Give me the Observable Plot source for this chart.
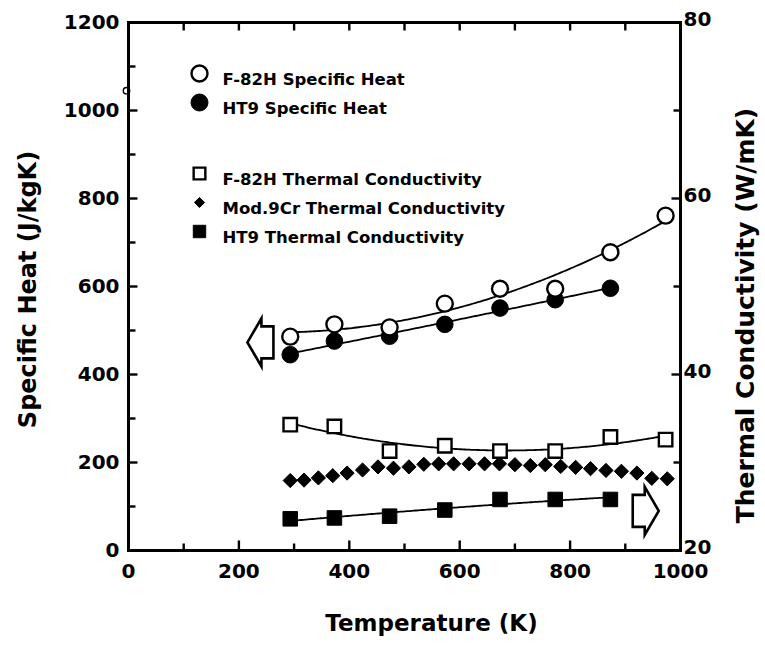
<!DOCTYPE html>
<html>
<head>
<meta charset="utf-8">
<script src="https://cdn.jsdelivr.net/npm/d3@7"></script>
<script src="https://cdn.jsdelivr.net/npm/@observablehq/plot@0.6"></script>
<style>
  html, body { margin: 0; padding: 0; background: #fff; }
</style>
</head>
<body>
<div id="chart"></div>
<script>
// Measurement temperatures (K) shared by the circle and square series
const temps = [293, 373, 473, 573, 673, 773, 873, 973];

// Specific heat (J/kgK)
const f82hSpecificHeat = [486, 514, 507, 561, 595, 595, 678, 761];
const ht9SpecificHeat = [445, 476, 487, 514, 551, 570, 596]; // 293 .. 873 K

// Thermal conductivity (W/mK)
const f82hConductivity = [34.3, 34.1, 31.3, 31.9, 31.3, 31.3, 32.9, 32.6];
const ht9Conductivity = [23.6, 23.7, 23.9, 24.6, 25.8, 25.8, 25.8]; // 293 .. 873 K
const mod9CrTemps = [293, 318, 344, 370, 396, 424, 452, 480, 508, 535, 562, 589, 617,
                     645, 672, 700, 728, 755, 783, 810, 837, 865, 893, 921, 948, 976];
const mod9CrConductivity = [27.95, 28.0, 28.25, 28.5, 28.8, 29.15, 29.5, 29.35, 29.5, 29.8,
                            29.85, 29.85, 29.85, 29.85, 29.85, 29.75, 29.65, 29.75, 29.55,
                            29.45, 29.3, 29.1, 29.0, 28.8, 28.2, 28.15];

// Lone point sitting on the left axis
const loosePointTemps = [0];
const loosePointHeat = [1045];

// Block arrows telling which axis each group of curves belongs to
const heatArrowTemps = [239];
const heatArrowValues = [473];
const conductivityArrowTemps = [937];
const conductivityArrowValues = [24.5];

// Axis ticks
const tempTicks = [0, 200, 400, 600, 800, 1000];
const tempMinorTicks = [100, 300, 500, 700, 900];
const heatTicks = [0, 200, 400, 600, 800, 1000, 1200];
const heatMinorTicks = [100, 300, 500, 700, 900, 1100];
const conductivityTicks = [20, 40, 60, 80];
const conductivityMinorTicks = [30, 50, 70];

const legendLabels = [
  "F-82H Specific Heat",
  "HT9 Specific Heat",
  "F-82H Thermal Conductivity",
  "Mod.9Cr Thermal Conductivity",
  "HT9 Thermal Conductivity"
];

// The right axis (20–80 W/mK) spans the same height as the left one (0–1200 J/kgK)
const kToHeat = k => (k - 20) * 20;
const heatToK = v => String(v / 20 + 20);
const plain = d3.format("d");

// Least-squares quadratic through a series, used for the smooth trend curves
function solve3(A, b) {
  const det = m => m[0][0] * (m[1][1] * m[2][2] - m[1][2] * m[2][1])
                 - m[0][1] * (m[1][0] * m[2][2] - m[1][2] * m[2][0])
                 + m[0][2] * (m[1][0] * m[2][1] - m[1][1] * m[2][0]);
  const D = det(A);
  return [0, 1, 2].map(c => det(A.map((row, r) => row.map((v, j) => (j === c ? b[r] : v)))) / D);
}
function quadraticFit(xs, ys) {
  const mx = d3.mean(xs);
  const s = [0, 0, 0, 0, 0], t = [0, 0, 0];
  xs.forEach((x, i) => {
    const u = (x - mx) / 100;
    for (let p = 0; p < 5; p++) s[p] += u ** p;
    for (let p = 0; p < 3; p++) t[p] += ys[i] * u ** p;
  });
  const c = solve3([[s[0], s[1], s[2]], [s[1], s[2], s[3]], [s[2], s[3], s[4]]], t);
  return x => { const u = (x - mx) / 100; return c[0] + c[1] * u + c[2] * u * u; };
}
function trend(xs, ys) {
  const f = quadraticFit(xs, ys);
  return d3.range(xs[0], xs[xs.length - 1] + 0.5, 4).map(T => ({T, v: f(T)}));
}

const pts = (xs, ys, conv = v => v) => ys.map((v, i) => ({T: xs[i], v: conv(v)}));

const f82hHeatPts = pts(temps, f82hSpecificHeat);
const ht9HeatPts = pts(temps, ht9SpecificHeat);
const f82hKPts = pts(temps, f82hConductivity, kToHeat);
const ht9KPts = pts(temps, ht9Conductivity, kToHeat);
const mod9CrPts = pts(mod9CrTemps, mod9CrConductivity, kToHeat);

const f82hHeatTrend = trend(temps, f82hSpecificHeat);
const ht9HeatTrend = trend(temps.slice(0, ht9SpecificHeat.length), ht9SpecificHeat);
const f82hKTrend = trend(temps, f82hConductivity.map(kToHeat));
const ht9KTrend = trend(temps.slice(0, ht9Conductivity.length), ht9Conductivity.map(kToHeat));

// Custom symbols: inward tick strokes and outlined block arrows
const tickMark = (dx, dy) => ({draw(ctx) { ctx.moveTo(0, 0); ctx.lineTo(dx, dy); }});
const blockArrow = dir => ({draw(ctx) {
  const shape = [[-13, 0], [1, -24], [1, -16], [13, -16], [13, 16], [1, 16], [1, 24]];
  shape.forEach(([x, y], i) => (i ? ctx.lineTo(dir * x, y) : ctx.moveTo(dir * x, y)));
  ctx.closePath();
}});

// Series appearance (also used by the legend)
const styles = [
  {symbol: "circle", fill: "white", r: 8, legendR: 8, strokeWidth: 2.4},
  {symbol: "circle", fill: "black", r: 8.3, legendR: 8.5, strokeWidth: 1},
  {symbol: "square", fill: "white", r: 7.6, legendR: 6.6, strokeWidth: 2.4},
  {symbol: "diamond2", fill: "black", r: 6.4, legendR: 4.6, strokeWidth: 1},
  {symbol: "square", fill: "black", r: 8.2, legendR: 7, strokeWidth: 1}
];
const dotsFor = (data, s) => Plot.dot(data, {
  x: "T", y: "v", symbol: s.symbol, r: s.r, fill: s.fill, stroke: "black", strokeWidth: s.strokeWidth
});
const curve = data => Plot.line(data, {x: "T", y: "v", stroke: "black", strokeWidth: 1.8, curve: "linear"});

const tickDots = (values, opts) => Plot.dot(values, {
  ...opts, r: 1, fill: "none", stroke: "black", strokeWidth: 2.4
});

const legendMarks = legendLabels.flatMap((label, i) => {
  const s = styles[i];
  const dy = 51 + 29 * i + (i >= 2 ? 42 : 0);
  return [
    Plot.dot([label], {frameAnchor: "top-left", dx: 71, dy, symbol: s.symbol, r: s.legendR,
                       fill: s.fill, stroke: "black", strokeWidth: s.strokeWidth}),
    Plot.text([label], {frameAnchor: "top-left", dx: 94, dy, text: d => d, textAnchor: "start", fontSize: 16.5})
  ];
});

const chart = Plot.plot({
  width: 765,
  height: 646,
  marginLeft: 128,
  marginRight: 85,
  marginTop: 22,
  marginBottom: 96,
  style: {fontFamily: "DejaVu Sans", fontWeight: "bold", fontSize: "20px", color: "black", background: "white", overflow: "visible"},
  x: {domain: [0, 1000]},
  y: {domain: [0, 1200]},
  marks: [
    // trend curves
    curve(f82hHeatTrend),
    curve(ht9HeatTrend),
    curve(f82hKTrend),
    curve(ht9KTrend),

    // data points
    dotsFor(mod9CrPts, styles[3]),
    dotsFor(ht9KPts, styles[4]),
    dotsFor(f82hKPts, styles[2]),
    dotsFor(ht9HeatPts, styles[1]),
    dotsFor(f82hHeatPts, styles[0]),
    Plot.dot(pts(loosePointTemps, loosePointHeat), {x: "T", y: "v", dx: -2, r: 3.2, fill: "white", stroke: "black", strokeWidth: 1.4}),

    // axis arrows
    Plot.dot(pts(heatArrowTemps, heatArrowValues), {x: "T", y: "v", symbol: blockArrow(1), r: 10, fill: "white", stroke: "black", strokeWidth: 2.6}),
    Plot.dot(pts(conductivityArrowTemps, conductivityArrowValues, kToHeat), {x: "T", y: "v", symbol: blockArrow(-1), r: 10, fill: "white", stroke: "black", strokeWidth: 2.6}),

    // inward ticks on all four sides
    tickDots(tempTicks, {x: d => d, frameAnchor: "bottom", symbol: tickMark(0, -10)}),
    tickDots(tempMinorTicks, {x: d => d, frameAnchor: "bottom", symbol: tickMark(0, -7)}),
    tickDots(tempTicks.concat(tempMinorTicks), {x: d => d, frameAnchor: "top", symbol: tickMark(0, 8)}),
    tickDots(heatTicks, {y: d => d, frameAnchor: "left", symbol: tickMark(9, 0)}),
    tickDots(heatMinorTicks, {y: d => d, frameAnchor: "left", symbol: tickMark(7, 0)}),
    tickDots(conductivityTicks.map(kToHeat), {y: d => d, frameAnchor: "right", symbol: tickMark(-9, 0)}),
    tickDots(conductivityMinorTicks.map(kToHeat), {y: d => d, frameAnchor: "right", symbol: tickMark(-7, 0)}),

    Plot.frame({stroke: "black", strokeWidth: 3}),

    // tick labels
    Plot.axisX(tempTicks, {anchor: "bottom", tickSize: 0, tickPadding: 13, tickFormat: plain, label: null}),
    Plot.axisY(heatTicks, {anchor: "left", tickSize: 0, tickPadding: 9, tickFormat: plain, label: null}),
    Plot.axisY(conductivityTicks.map(kToHeat), {anchor: "right", tickSize: 0, tickPadding: 3, dy: -3, tickFormat: heatToK, label: null}),

    // axis titles
    Plot.text(["Temperature (K)"], {frameAnchor: "bottom", textAnchor: "middle", dx: 27, dy: 80, text: d => d, fontSize: 23}),
    Plot.text(["Specific Heat (J/kgK)"], {frameAnchor: "left", textAnchor: "middle", dx: -100, dy: 3, rotate: -90, text: d => d, fontSize: 24}),
    Plot.text(["Thermal Conductivity (W/mK)"], {frameAnchor: "right", textAnchor: "middle", dx: 65, dy: 29, rotate: -90, text: d => d, fontSize: 25}),

    ...legendMarks
  ]
});

document.getElementById("chart").append(chart);
</script>
</body>
</html>
